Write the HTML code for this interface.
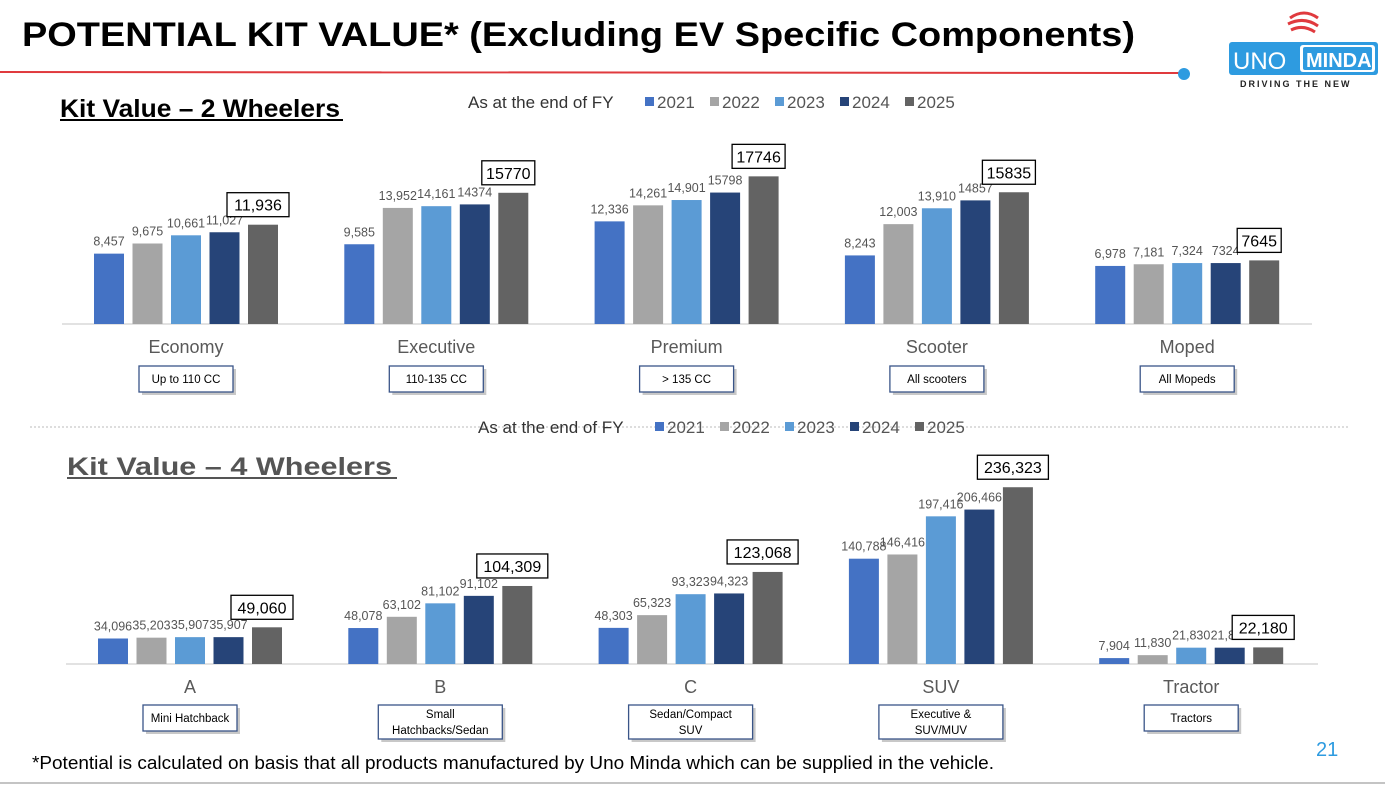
<!DOCTYPE html>
<html><head><meta charset="utf-8"><style>
body{margin:0;width:1385px;height:785px;background:#fff;overflow:hidden;font-family:"Liberation Sans",sans-serif}
svg{position:absolute;left:0;top:0}
</style></head><body>
<svg id="s" width="1385" height="785" xmlns="http://www.w3.org/2000/svg">
<text x="22" y="46" font-size="34" font-weight="bold" fill="#000" textLength="1113" lengthAdjust="spacingAndGlyphs">POTENTIAL KIT VALUE* (Excluding EV Specific Components)</text>
<line x1="0" y1="72" x2="1180" y2="73" stroke="#e03a3e" stroke-width="2"/>
<circle cx="1184" cy="74" r="6" fill="#2e9be0"/>
<g>
<path d="M1290 18 q14 -10 28 0 M1288 24 q16 -8 30 2 M1291 30 q12 -6 24 2" stroke="#e03a3e" stroke-width="3" fill="none"/>
<rect x="1229" y="42" width="149" height="33" rx="3" fill="#2e9be0"/>
<rect x="1300" y="45" width="75" height="27" rx="3" fill="#fff"/>
<rect x="1303" y="47" width="69" height="23" rx="2" fill="#2e9be0"/>
<text x="1233" y="69" font-size="24" fill="#fff">UNO</text>
<text x="1306" y="67" font-size="20" font-weight="bold" fill="#fff">MINDA</text>
<text x="1240" y="87" font-size="9" font-weight="bold" fill="#222" letter-spacing="2">DRIVING THE NEW</text>
</g>
<text x="60" y="117" font-size="25" font-weight="bold" fill="#000" textLength="280" lengthAdjust="spacingAndGlyphs">Kit Value – 2 Wheelers</text>
<line x1="60" y1="120" x2="343" y2="120" stroke="#000" stroke-width="2"/>
<text x="67" y="475" font-size="25" font-weight="bold" fill="#555" textLength="325" lengthAdjust="spacingAndGlyphs">Kit Value – 4 Wheelers</text>
<line x1="67" y1="478" x2="397" y2="478" stroke="#555" stroke-width="2"/>
<line x1="30" y1="427" x2="1350" y2="427" stroke="#bbb" stroke-dasharray="2,2"/>
<text x="32" y="769" font-size="18" fill="#000" textLength="962" lengthAdjust="spacingAndGlyphs">*Potential is calculated on basis that all products manufactured by Uno Minda which can be supplied in the vehicle.</text>
<text x="1316" y="756" font-size="20" fill="#2e9be0">21</text>
<line x1="0" y1="783" x2="1385" y2="783" stroke="#888" stroke-width="1"/>
<g id="g1"></g><g id="g2"></g>
</svg>
<script>
const years=["2021","2022","2023","2024","2025"];
const colors=["#4472c4","#a5a5a5","#5b9bd5","#264478","#636363"];
const cats2W=["Economy","Executive","Premium","Scooter","Moped"];
const subs2W=[["Up to 110 CC"],["110-135 CC"],["> 135 CC"],["All scooters"],["All Mopeds"]];
const vals2W=[[8457,9675,10661,11027,11936],[9585,13952,14161,14374,15770],[12336,14261,14901,15798,17746],[8243,12003,13910,14857,15835],[6978,7181,7324,7324,7645]];
const labels2W=[["8,457","9,675","10,661","11,027","11,936"],["9,585","13,952","14,161","14374","15770"],["12,336","14,261","14,901","15798","17746"],["8,243","12,003","13,910","14857","15835"],["6,978","7,181","7,324","7324","7645"]];
const cats4W=["A","B","C","SUV","Tractor"];
const subs4W=[["Mini Hatchback"],["Small","Hatchbacks/Sedan"],["Sedan/Compact","SUV"],["Executive &","SUV/MUV"],["Tractors"]];
const vals4W=[[34096,35203,35907,35907,49060],[48078,63102,81102,91102,104309],[48303,65323,93323,94323,123068],[140788,146416,197416,206466,236323],[7904,11830,21830,21830,22180]];
const labels4W=[["34,096","35,203","35,907","35,907","49,060"],["48,078","63,102","81,102","91,102","104,309"],["48,303","65,323","93,323","94,323","123,068"],["140,788","146,416","197,416","206,466","236,323"],["7,904","11,830","21,830","21,830","22,180"]];
const NS="http://www.w3.org/2000/svg";
function mk(p,t,a,txt){const e=document.createElementNS(NS,t);for(const k in a)e.setAttribute(k,a[k]);if(txt!==undefined)e.textContent=txt;p.appendChild(e);return e;}
function chart(gid,cats,subs,vals,labels,base,scale,cx0,step,legY,legX,catY,subY,axisX1,axisX2){
 const g=document.getElementById(gid);
 const yScale=v=>base-v*scale;
 const xScale=(i,j)=>cx0+i*step+(j-2)*38.5-15;
 const ax=mk(g,"line",{x1:axisX1,y1:base,x2:axisX2,y2:base,stroke:"#d9d9d9","stroke-width":1.5});
 
 
 const lt=mk(g,"text",{x:legX,y:legY,"font-size":17,fill:"#333"},"As at the end of FY");
 
 
 let lx=legX+177;
 years.forEach((y,j)=>{
  const r=mk(g,"rect",{x:lx,y:legY-11,width:9,height:9,fill:colors[j]});
  
  
  const t=mk(g,"text",{x:lx+12,y:legY,"font-size":17,fill:"#555"},y);
  
  
  lx+=65;
 });
 cats.forEach((c,i)=>{
  vals[i].forEach((v,j)=>{
   const x=xScale(i,j),y=yScale(v);
   const b=mk(g,"rect",{x:x,y:y,width:30,height:base-y,fill:colors[j]});
   
   
   if(j<4){
    const t=mk(g,"text",{x:x+15,y:y-8,"font-size":12.5,fill:"#555","text-anchor":"middle"},labels[i][j]);
    
    
   }else{
    const w=labels[i][j].length*9+8;
    const r=mk(g,"rect",{x:x+8-w/2+2,y:y-32,width:w,height:24,fill:"#fff",stroke:"#000","stroke-width":1.3});
    
    
    const t=mk(g,"text",{x:x+10,y:y-14,"font-size":16,fill:"#000","text-anchor":"middle"},labels[i][j]);
    
    
   }
  });
  const cx=cx0+i*step;
  const ct=mk(g,"text",{x:cx,y:catY,"font-size":18,fill:"#595959","text-anchor":"middle"},c);
  
  
  const s=subs[i];const bw=s.length>1?124:94,bh=s.length>1?34:26;
  const bx=cx-bw/2,by=subY;
  mk(g,"rect",{x:bx+3,y:by+3,width:bw,height:bh,fill:"#c8c8c8"});
  const sb=mk(g,"rect",{x:bx,y:by,width:bw,height:bh,fill:"#fff",stroke:"#3a5588","stroke-width":1.3});
  
  
  s.forEach((ln,k)=>{
   const st=mk(g,"text",{x:cx,y:by+(s.length>1?13+k*16:17),"font-size":11.5,fill:"#000","text-anchor":"middle"},ln);
   
   
  });
 });
}
chart("g1",cats2W,subs2W,vals2W,labels2W,324,0.00832,186,250.3,108,468,353,366,62,1312);
chart("g2",cats4W,subs4W,vals4W,labels4W,664,0.000748,190,250.3,433,478,693,705,66,1318);
</script>
</body></html>
